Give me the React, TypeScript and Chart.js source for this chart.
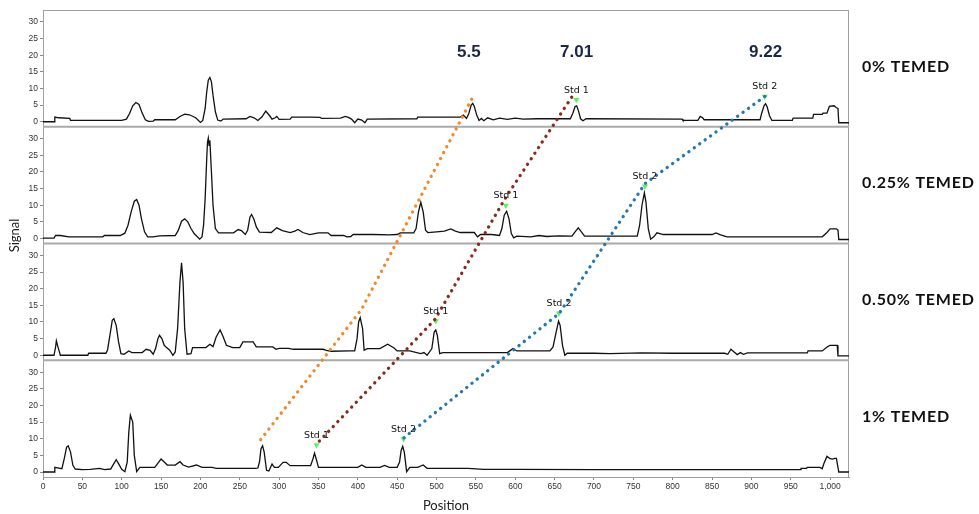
import { useEffect, useRef } from 'react'
import { Chart, registerables } from 'chart.js'

Chart.register(...registerables)

type Pt = [number, number]

// axis ticks
const positionTicks = [0, 50, 100, 150, 200, 250, 300, 350, 400, 450, 500, 550, 600, 650, 700, 750, 800, 850, 900, 950, 1000]
const signalTicks = [0, 5, 10, 15, 20, 25, 30]

const panelLabels = ['0% TEMED', '0.25% TEMED', '0.50% TEMED', '1% TEMED']

// electropherogram traces, [position, signal]
const trace0: Pt[] = [
  [0, 0], [14, 0], [15, 1.4], [20, 1.2], [34, 1.0], [35, 0.4], [100, 0.4], [106, 0.8], [110, 2.5], [114, 4.8],
  [118, 5.8], [122, 5.2], [126, 2.6], [130, 0.6], [134, 0.1], [140, 0.2], [142, 0.6], [168, 0.6], [174, 1.6],
  [180, 2.3], [186, 2.1], [194, 1.2], [200, -0.2], [203, 0.4], [206, 4], [208, 9], [210, 12.5], [212, 13.3],
  [214, 12], [216, 8], [219, 3], [222, 0.5], [226, 0.2], [229, 0.8], [258, 0.9], [263, 1.6], [268, 1.2],
  [273, 0.4], [278, 1.4], [283, 3.2], [288, 1.8], [291, 0.8], [295, 1.2], [297, 1.6], [300, 0.7], [314, 0.8],
  [316, 1.4], [340, 1.4], [352, 1.3], [354, 1.0], [378, 1.1], [384, 1.6], [388, 1.3], [392, 0.8], [396, -0.3],
  [400, 0.8], [405, 0.5], [409, -0.3], [412, 0.8], [475, 0.9], [476, 1.4], [530, 1.4], [534, 2.0], [538, 1.0],
  [541, 2.5], [544, 5.0], [546, 5.5], [548, 4.6], [551, 2.0], [554, 0.4], [557, 1.0], [560, 0.3], [565, 1.2],
  [572, 0.6], [580, 1.1], [590, 0.7], [600, 1.1], [610, 0.8], [628, 0.9], [670, 0.9], [673, 2.5], [676, 4.6],
  [678, 4.8], [680, 3.5], [683, 0.9], [686, 0.3], [690, 0.9], [812, 0.8], [813, 0.4], [832, 0.4], [835, 1.6],
  [838, 1.2], [840, 0.6], [911, 0.6], [913, 2.5], [916, 4.8], [918, 5.4], [920, 4.5], [923, 1.8], [926, 0.4],
  [952, 0.4], [953, 1.1], [978, 1.1], [979, 2.2], [990, 2.2], [991, 2.6], [996, 2.6], [999, 4.6], [1005, 4.8],
  [1008, 4.2], [1010, 4.0], [1011, -0.3], [1024, -0.3],
]

const trace1: Pt[] = [
  [0, 0.1], [14, 0.1], [16, 0.9], [22, 0.9], [33, 0.5], [76, 0.5], [78, 0.9], [98, 0.9], [104, 1.6], [108, 4],
  [112, 8], [116, 11.2], [119, 11.7], [122, 10], [125, 6], [129, 2], [133, 0.5], [140, 0.5], [148, 0.8],
  [168, 0.9], [172, 2.5], [176, 5.2], [180, 5.9], [184, 5.0], [188, 3], [192, 1.5], [199, -0.2], [202, 0.5],
  [204, 4], [206, 12], [208, 24], [209, 29], [210, 30.2], [211, 28], [212, 29.5], [214, 20], [216, 10],
  [219, 3], [223, 1.7], [242, 1.7], [248, 2.7], [252, 2.4], [257, 1.2], [260, 2.5], [263, 6.5], [265, 7.2],
  [268, 5.8], [271, 3.5], [275, 1.9], [290, 1.8], [297, 3.2], [304, 2.4], [314, 1.8], [320, 2.2], [324, 2.7],
  [330, 1.8], [339, 1.2], [350, 1.7], [362, 1.7], [366, 0.9], [382, 0.9], [386, 0.5], [391, 0.6], [394, 1.2],
  [420, 1.2], [440, 1.1], [450, 1.2], [454, 1.7], [471, 1.7], [474, 3], [477, 8], [480, 10.9], [483, 8],
  [486, 2.5], [489, 1.8], [500, 2.0], [510, 2.2], [518, 2.9], [524, 2.2], [530, 1.8], [548, 1.8], [552, 0.5],
  [556, 1.2], [570, 1.2], [580, 0.9], [583, 3], [586, 7], [589, 8.2], [592, 6], [595, 1.5], [598, 0.2],
  [602, 0.7], [620, 0.5], [630, 0.9], [640, 0.6], [655, 0.8], [672, 0.7], [676, 2.0], [680, 3.2], [684, 2.0],
  [688, 0.7], [755, 0.7], [758, 4], [761, 10], [764, 13.7], [766, 11], [769, 3], [772, -0.2], [776, 0.5],
  [780, 1.7], [788, 1.2], [850, 1.2], [855, 1.7], [860, 1.2], [869, 0.5], [990, 0.5], [996, 1.8], [1000, 2.9],
  [1008, 2.9], [1010, 2.5], [1011, -0.3], [1024, -0.3],
]

const trace2: Pt[] = [
  [0, 0], [14, 0], [16, 2.5], [17, 4.3], [19, 2.5], [22, 0], [57, 0], [58, 0.6], [80, 0.6], [82, 1.6], [85, 6],
  [88, 10.5], [90, 11], [93, 9], [96, 4], [99, 0.5], [103, 0.3], [109, 1.3], [113, 0.8], [126, 0.8], [131, 1.8],
  [136, 1.5], [140, 0.3], [143, 2], [146, 5], [148, 6], [151, 5], [154, 3], [157, 2.3], [161, 1.5], [165, 0],
  [168, 1], [171, 8], [174, 22], [176, 27.8], [178, 22], [180, 8], [183, 0.3], [188, 0.5], [190, 2.3],
  [207, 2.3], [212, 3.3], [216, 2.6], [220, 5.5], [225, 7.6], [229, 5.5], [233, 3], [241, 2.3], [250, 2.3],
  [254, 4.0], [267, 4.0], [271, 2.5], [292, 2.5], [296, 1.8], [300, 2.1], [312, 2.1], [318, 1.8], [356, 1.8],
  [360, 1.5], [366, 1.2], [390, 1.3], [396, 1.3], [399, 5], [401, 10], [403, 11.3], [406, 8], [408, 1.5],
  [412, 2.0], [428, 2.0], [438, 3.3], [446, 2.2], [450, 1.3], [466, 1.3], [480, 0.5], [484, 0.8], [488, 0],
  [494, 2], [497, 7], [499, 7.6], [501, 6], [504, 0.5], [508, 0.8], [590, 0.8], [597, 2.0], [602, 1.3],
  [644, 1.3], [648, 2.5], [652, 7], [655, 10.3], [657, 9], [660, 3], [663, 0], [666, 0.6], [700, 0.6],
  [720, 0.5], [760, 0.7], [800, 0.6], [866, 0.6], [870, 0.3], [874, 1.8], [878, 1.0], [882, 0.2], [886, 0.8],
  [890, 0.3], [895, 0.7], [971, 0.7], [972, 1.3], [990, 1.3], [997, 2.6], [1000, 3.0], [1009, 3.0],
  [1010, -0.2], [1024, -0.2],
]

const trace3: Pt[] = [
  [0, 0], [14, 0], [15, 1.4], [20, 1.2], [24, 1.0], [27, 4], [30, 7.5], [32, 7.9], [35, 6], [38, 2], [41, 0.9],
  [50, 0.7], [60, 0.8], [72, 1.1], [78, 0.7], [86, 0.9], [90, 2.5], [93, 3.7], [96, 2.5], [100, 0.8],
  [104, 0.1], [107, 3], [109, 12], [111, 17.1], [114, 15], [116, 5], [119, 0.1], [123, 1.4], [142, 1.4],
  [147, 3], [150, 3.9], [154, 3], [158, 2.1], [168, 2.1], [174, 3.1], [178, 2.1], [185, 1.5], [195, 2.1],
  [202, 1.4], [215, 1.4], [220, 1.1], [270, 1.1], [273, 1.2], [275, 3], [277, 7], [279, 7.9], [281, 6],
  [284, 0.5], [287, 0.3], [291, 2.4], [294, 1.4], [299, 1.4], [305, 2.9], [309, 2.9], [314, 1.9], [340, 1.9],
  [343, 4], [345, 5.7], [347, 4], [350, 1.4], [380, 1.4], [400, 1.4], [405, 2.1], [410, 1.4], [428, 1.4],
  [434, 2.0], [440, 1.4], [450, 1.4], [453, 3], [455, 6.5], [457, 7.7], [459, 6], [462, 0.1], [466, 1.4],
  [476, 1.4], [483, 2.1], [488, 1.1], [540, 1.1], [560, 0.8], [600, 0.8], [700, 0.7], [962, 0.7], [963, 1.1],
  [970, 1.1], [971, 1.4], [987, 1.4], [990, 1.0], [992, 2.5], [996, 4.7], [1000, 4.0], [1003, 3.9],
  [1006, 4.1], [1008, 4.1], [1011, 0], [1024, 0],
]

const traces = [trace0, trace1, trace2, trace3]

// size standard markers per panel: Std 1, Std 2
const stdNames = ['Std 1', 'Std 2']
const stdMarkers: Pt[][] = [
  [[677.7, 6.6], [917, 7.6]],
  [[588, 9.9], [764.8, 15.7]],
  [[499, 10.3], [655.6, 12.6]],
  [[347.5, 8.1], [458, 9.9]],
]

// migration paths: [panel, position, signal]
const orangePath: [number, number, number][] = [[0, 544.6, 6.8], [2, 404.7, 13.8], [3, 275.5, 9.4]]
const redPath: [number, number, number][] = [[0, 671.7, 7.4], [1, 587, 12], [2, 498, 10.8], [3, 347.5, 8.4]]
const bluePath: [number, number, number][] = [[0, 917, 7.6], [1, 764.8, 16.5], [2, 655.9, 12.6], [3, 457.6, 10.1]]

const sizeLabels = ['5.5', '7.01', '9.22']
const sizeLabelPos = [541, 678, 918]
const sizeLabelSignal = 21

const panelIds = ['y0', 'y1', 'y2', 'y3']

const overlay = {
  id: 'overlay',
  beforeDatasetsDraw(chart: any) {
    const { ctx, chartArea } = chart
    ctx.save()
    ctx.strokeStyle = '#a0a0a0'
    ctx.lineWidth = 1
    ctx.strokeRect(chartArea.left + 0.5, chartArea.top + 0.5, chartArea.right - chartArea.left - 1, chartArea.bottom - chartArea.top)
    ctx.lineWidth = 2
    ctx.strokeStyle = '#aaaaaa'
    panelIds.slice(0, 3).forEach((id) => {
      const s = chart.scales[id]
      ctx.beginPath()
      ctx.moveTo(chartArea.left, s.bottom)
      ctx.lineTo(chartArea.right, s.bottom)
      ctx.stroke()
    })
    ctx.restore()
  },
  afterDatasetsDraw(chart: any) {
    const { ctx, chartArea } = chart
    const x = chart.scales.x
    ctx.save()

    const paths: [[number, number, number][], string][] = [
      [orangePath, '#f08a2a'],
      [redPath, '#8a2a1a'],
      [bluePath, '#2178b2'],
    ]
    ctx.lineCap = 'round'
    ctx.lineWidth = 3.3
    ctx.setLineDash([0.1, 6.6])
    paths.forEach(([path, color]) => {
      ctx.strokeStyle = color
      ctx.beginPath()
      path.forEach(([p, px, py], i) => {
        const X = x.getPixelForValue(px)
        const Y = chart.scales[panelIds[p]].getPixelForValue(py)
        if (i === 0) ctx.moveTo(X, Y)
        else ctx.lineTo(X, Y)
      })
      ctx.stroke()
    })
    ctx.setLineDash([])

    ctx.fillStyle = '#111'
    ctx.font = '9.5px "DejaVu Sans"'
    ctx.textAlign = 'center'
    ctx.textBaseline = 'bottom'
    stdMarkers.forEach((marks, p) => {
      marks.forEach(([px, py], i) => {
        const X = x.getPixelForValue(px)
        const Y = chart.scales[panelIds[p]].getPixelForValue(py)
        ctx.fillText(stdNames[i], X, Y - 5)
      })
    })

    ctx.fillStyle = '#1b2747'
    ctx.font = 'bold 17px "Liberation Sans"'
    ctx.textBaseline = 'middle'
    sizeLabels.forEach((t, i) => {
      ctx.fillText(t, x.getPixelForValue(sizeLabelPos[i]), chart.scales.y0.getPixelForValue(sizeLabelSignal))
    })

    ctx.fillStyle = '#111'
    ctx.textAlign = 'left'
    ctx.font = 'bold 16px Lato'
    ;(ctx as any).letterSpacing = '0.8px'
    panelLabels.forEach((t, i) => {
      const s = chart.scales[panelIds[i]]
      ctx.fillText(t, chartArea.right + 13, (s.top + s.bottom) / 2 - 2)
    })
    ;(ctx as any).letterSpacing = '0px'

    ctx.font = '13px Lato'
    ctx.fillStyle = '#222'
    ctx.textAlign = 'center'
    ctx.translate(15, (chartArea.top + chartArea.bottom) / 2 - 8)
    ctx.rotate(-Math.PI / 2)
    ctx.fillText('Signal', 0, 0)
    ctx.restore()
  },
}

const App = () => {
  const ref = useRef<HTMLCanvasElement>(null)
  const chart = useRef<Chart>()

  useEffect(() => {
    if (ref.current) {
      const scales: any = {
        x: {
          type: 'linear',
          position: 'bottom',
          min: 0,
          max: 1024,
          afterBuildTicks: (s: any) => {
            s.ticks = positionTicks.map((v) => ({ value: v }))
          },
          afterFit: (s: any) => {
            s.height = 37
          },
          ticks: { font: { size: 8.5 }, color: '#333', padding: 2, maxRotation: 0, autoSkip: false },
          grid: { drawOnChartArea: false, tickLength: 3, color: '#888' },
          border: { color: '#a0a0a0' },
          title: { display: true, text: 'Position', font: { family: 'Lato', size: 13 }, color: '#222', padding: 0 },
        },
      }
      panelIds.forEach((id, i) => {
        scales[id] = {
          type: 'linear',
          position: 'left',
          stack: 'panels',
          stackWeight: 1,
          weight: 4 - i,
          min: -1.5,
          max: 33.6,
          afterBuildTicks: (s: any) => {
            s.ticks = signalTicks.map((v) => ({ value: v }))
          },
          afterFit: (s: any) => {
            s.width = 43
          },
          ticks: { font: { size: 8.5 }, color: '#333', padding: 2, autoSkip: false },
          grid: { drawOnChartArea: false, tickLength: 3, color: '#888' },
          border: { color: '#a0a0a0' },
        }
      })

      const datasets: any[] = []
      traces.forEach((t, i) => {
        datasets.push({
          type: 'line',
          data: t.map(([px, py]) => ({ x: px, y: py })),
          yAxisID: panelIds[i],
          borderColor: '#111',
          borderWidth: 1.3,
          pointRadius: 0,
          tension: 0,
        })
      })
      stdMarkers.forEach((m, i) => {
        datasets.push({
          type: 'scatter',
          data: m.map(([px, py]) => ({ x: px, y: py })),
          yAxisID: panelIds[i],
          pointStyle: 'triangle',
          rotation: 180,
          pointRadius: 3.5,
          backgroundColor: '#5cf25c',
          borderWidth: 0,
        })
      })

      chart.current = new Chart(ref.current, {
        type: 'line',
        data: { datasets },
        options: {
          animation: false,
          responsive: false,
          layout: { padding: { top: 10, right: 130, left: 0, bottom: 0 } },
          plugins: { legend: { display: false }, tooltip: { enabled: false } },
          scales,
        },
        plugins: [overlay],
      })
    }

    return () => {
      if (chart.current) {
        chart.current.destroy()
      }
    }
  }, [])

  return (
    <div style={{ position: 'fixed', left: 0, top: 0, width: 979, height: 514, background: '#fff' }}>
      <canvas ref={ref} width={979} height={514} style={{ display: 'block' }}></canvas>
    </div>
  )
}

export default App
